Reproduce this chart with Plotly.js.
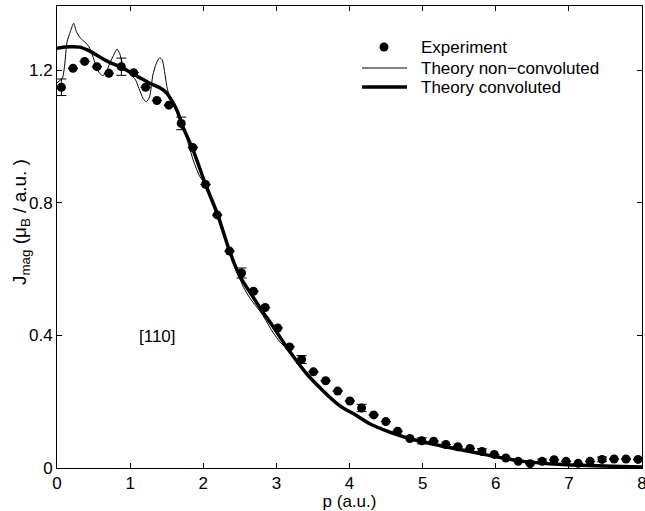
<!DOCTYPE html>
<html><head><meta charset="utf-8">
<script src="https://cdn.plot.ly/plotly-3.0.1.min.js"></script>
<style>html,body{margin:0;padding:0;background:#fff}#chart{width:645px;height:511px}</style>
</head><body><div id="chart"></div>
<script>
// Experimental data
const expP = [0.060,0.219,0.378,0.546,0.710,0.880,1.048,1.212,1.366,1.530,1.699,1.858,2.031,2.191,2.359,2.523,2.687,2.847,3.018,3.180,3.345,3.507,3.674,3.839,4.005,4.165,4.331,4.497,4.658,4.825,4.989,5.150,5.317,5.481,5.648,5.811,5.980,6.139,6.307,6.471,6.635,6.798,6.962,7.126,7.290,7.454,7.618,7.782,7.946];
const expJ = [1.148,1.205,1.226,1.210,1.190,1.210,1.192,1.148,1.108,1.094,1.039,0.966,0.855,0.763,0.654,0.588,0.533,0.484,0.422,0.365,0.327,0.290,0.263,0.232,0.202,0.181,0.160,0.140,0.111,0.089,0.082,0.081,0.071,0.064,0.059,0.050,0.041,0.030,0.020,0.013,0.020,0.025,0.020,0.014,0.020,0.026,0.027,0.027,0.026];
const expErr = [0.025,0,0,0,0,0.026,0,0,0,0,0.019,0,0,0,0,0.015,0,0,0,0,0.012,0,0,0,0,0.011,0,0,0,0,0.009,0,0,0,0,0.008,0,0,0,0,0.007,0,0,0,0,0.007,0,0,0];

// Theory non-convoluted
const ncP = [0,0.074,0.105,0.137,0.183,0.228,0.265,0.320,0.378,0.437,0.484,0.538,0.583,0.628,0.675,0.720,0.775,0.820,0.857,0.902,0.956,1.016,1.075,1.120,1.175,1.221,1.266,1.311,1.358,1.403,1.440,1.471,1.503,1.549,1.594,1.653,1.70,1.78,1.86,1.95,2.03,2.20,2.36,2.45,2.55,2.63,2.80,2.95,3.05,3.18,3.45,3.60,3.68,3.76,3.86,4.09,4.27,4.54,4.82,5.23,5.68,5.91,6.28,6.73,7.19,8.0];
const ncJ = [1.161,1.176,1.215,1.285,1.316,1.341,1.316,1.296,1.285,1.270,1.245,1.210,1.190,1.183,1.195,1.220,1.245,1.263,1.250,1.215,1.200,1.185,1.170,1.145,1.115,1.104,1.119,1.185,1.220,1.237,1.230,1.195,1.150,1.110,1.095,1.064,1.040,0.990,0.930,0.880,0.855,0.765,0.650,0.600,0.545,0.515,0.465,0.410,0.380,0.352,0.277,0.240,0.220,0.205,0.189,0.159,0.134,0.109,0.089,0.068,0.048,0.038,0.023,0.013,0.008,0.003];

// Theory convoluted
const cvP = [0,0.04,0.17,0.31,0.45,0.58,0.72,0.86,0.99,1.13,1.27,1.40,1.49,1.58,1.65,1.70,1.86,2.03,2.20,2.36,2.50,2.63,2.80,2.95,3.18,3.45,3.86,4.09,4.27,4.54,4.82,5.23,5.68,5.91,6.28,6.73,7.19,8.0];
const cvJ = [1.265,1.267,1.270,1.269,1.257,1.240,1.223,1.210,1.195,1.177,1.160,1.147,1.133,1.104,1.074,1.040,0.959,0.856,0.762,0.654,0.578,0.533,0.475,0.428,0.352,0.275,0.189,0.159,0.134,0.109,0.089,0.068,0.048,0.038,0.023,0.013,0.008,0.003];

const xTicks = [0,1,2,3,4,5,6,7,8];
const yTicks = [0,0.4,0.8,1.2];
const yTickText = ['0','0.4','0.8','1.2'];
const legendNames = ['Experiment','Theory non\u2212convoluted','Theory convoluted'];

const FONT = 'Liberation Sans, Arial, sans-serif';
const FS = 17;

const traces = [
  {x: expP, y: expJ, type:'scatter', mode:'markers', name:legendNames[0],
   marker:{color:'#000', size:9},
   error_y:{type:'data', array:expErr, visible:true, color:'#000', thickness:1, width:5}},
  {x: ncP, y: ncJ, type:'scatter', mode:'lines', name:legendNames[1],
   line:{color:'#000', width:1, shape:'spline', smoothing:0.6}},
  {x: cvP, y: cvJ, type:'scatter', mode:'lines', name:legendNames[2],
   line:{color:'#000', width:3.5, shape:'spline', smoothing:0.8}}
];

const axisCommon = {
  showgrid:false, zeroline:false, showline:true, linecolor:'#000', linewidth:1,
  mirror:'ticks', ticks:'inside', ticklen:5, tickcolor:'#000', tickwidth:1,
  tickfont:{family:FONT, size:FS, color:'#000'}, automargin:false
};

// Plot area: x 57..642 px, y 6..468 px
const PL = 57, PW = 585, PB = 468, PH = 462;
const px = v => (v - PL) / PW;
const py = v => (PB - v) / PH;
const legY = [47, 68, 87];

const yTitle = 'J<sub>mag</sub> (\u03bc<sub>B</sub> / a.u. )';

const annotations = [
  {x:1.37, y:0.397, xref:'x', yref:'y', text:'[110]', showarrow:false,
   font:{family:FONT, size:FS, color:'#000'}},
  {x:px(21), y:py(222), xref:'paper', yref:'paper', xanchor:'center', yanchor:'middle',
   text:yTitle, textangle:-90, showarrow:false, font:{family:FONT, size:19, color:'#000'}}
];
legendNames.forEach((n,i)=>{
  annotations.push({x:px(419), y:py(legY[i]), xref:'paper', yref:'paper', xanchor:'left', yanchor:'middle',
    text:n, showarrow:false, font:{family:FONT, size:FS, color:'#000'}});
});
const shapes = [
  {type:'circle', xref:'paper', yref:'paper', x0:px(379.5), x1:px(388.5), y0:py(42.5), y1:py(51.5),
   fillcolor:'#000', line:{color:'#000', width:0}},
  {type:'line', xref:'paper', yref:'paper', x0:px(362), x1:px(407), y0:py(legY[1]), y1:py(legY[1]),
   line:{color:'#000', width:1}},
  {type:'line', xref:'paper', yref:'paper', x0:px(362), x1:px(407), y0:py(legY[2]), y1:py(legY[2]),
   line:{color:'#000', width:3.5}}
];

const layout = {
  width:645, height:511,
  margin:{l:57, r:3, t:6, b:43},
  paper_bgcolor:'#fff', plot_bgcolor:'#fff',
  font:{family:FONT, size:FS, color:'#000'},
  showlegend:false,
  xaxis:Object.assign({}, axisCommon, {range:[0,8], tickvals:xTicks, ticktext:xTicks.map(String),
          ticklabeloverflow:'allow',
          title:{text:'p (a.u.)', font:{family:FONT, size:FS}, standoff:2}}),
  yaxis:Object.assign({}, axisCommon, {range:[0,1.393], tickvals:yTicks, ticktext:yTickText}),
  annotations: annotations,
  shapes: shapes
};

Plotly.newPlot('chart', traces, layout, {displayModeBar:false, staticPlot:true});
</script>
</body></html>
